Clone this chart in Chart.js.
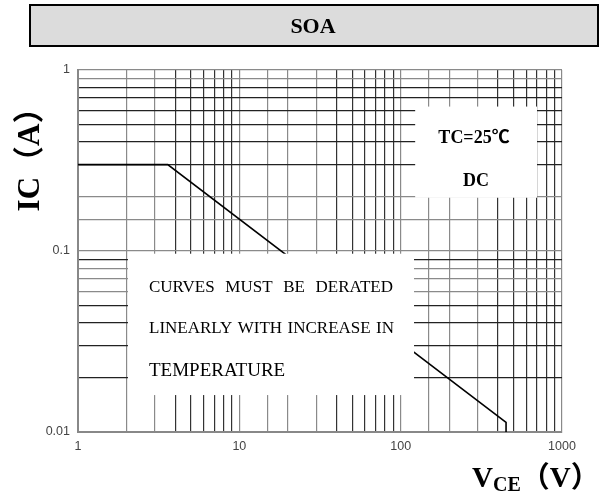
<!DOCTYPE html>
<html>
<head>
<meta charset="utf-8">
<script src="https://cdn.jsdelivr.net/npm/chart.js@4/dist/chart.umd.min.js"></script>
<style>
  html, body { margin: 0; padding: 0; background: #fff; }
  #wrap { width: 606px; height: 494px; position: relative; }
</style>
</head>
<body>
<div id="wrap"><canvas id="soaChart"></canvas></div>
<script>
// SOA curve (DC, TC=25C)
const vce = [1, 3.6, 450, 450];
const ic = [0.3, 0.3, 0.0113, 0.01];

// axis ticks
const xTickValues = [1, 10, 100, 1000];
const xTickLabels = ['1', '10', '100', '1000'];
const yTickValues = [0.01, 0.1, 1];
const yTickLabels = ['0.01', '0.1', '1'];

// grid lines drawn darker in the original
const darkH = [0.02, 0.03, 0.04, 0.05, 0.09, 0.3, 0.4, 0.5, 0.6, 0.7, 0.8];

const serif = '"Liberation Serif", "Noto Sans CJK SC", serif';

function near(a, b) { return Math.abs(Math.log10(a) - Math.log10(b)) < 1e-6; }
function labelFor(v, vals, labels) {
  for (var i = 0; i < vals.length; i++) { if (near(v, vals[i])) return labels[i]; }
  return '';
}
function mantissa(v) { return Math.round(v / Math.pow(10, Math.floor(Math.log10(v) + 1e-9))); }

// spread words evenly between x0 and x1
function justify(c, text, x0, x1, y) {
  const words = text.split(' ');
  const w = words.reduce((s, t) => s + c.measureText(t).width, 0);
  const gap = (x1 - x0 - w) / (words.length - 1);
  let x = x0;
  words.forEach(t => { c.fillText(t, x, y); x += c.measureText(t).width + gap; });
}

const decor = {
  id: 'decor',
  afterDatasetsDraw(chart) {
    const c = chart.ctx, xs = chart.scales.x, ys = chart.scales.y;
    function box(x0, x1, y0, y1) {
      const l = xs.getPixelForValue(x0), r = xs.getPixelForValue(x1);
      const t = ys.getPixelForValue(y1), b = ys.getPixelForValue(y0);
      c.fillStyle = '#fff';
      c.fillRect(l, t, r - l, b - t);
    }
    c.save();
    box(123, 700, 0.197, 0.628);
    box(2.04, 121, 0.016, 0.0966);

    c.fillStyle = '#000';
    c.textAlign = 'center';
    c.textBaseline = 'middle';
    c.font = 'bold 18px ' + serif;
    c.fillText('TC=25℃', 474, 138);
    c.fillText('DC', 476, 181);

    c.textAlign = 'left';
    c.font = '17px ' + serif;
    justify(c, 'CURVES MUST BE DERATED', 149, 393, 288);
    justify(c, 'LINEARLY WITH INCREASE IN', 149, 394, 329);
    c.font = '19px ' + serif;
    c.fillText('TEMPERATURE', 149, 371);
    c.restore();
  },
  afterDraw(chart) {
    const c = chart.ctx;
    c.save();
    // title box
    c.fillStyle = '#dcdcdc';
    c.fillRect(30, 5, 568, 41);
    c.strokeStyle = '#000';
    c.lineWidth = 2;
    c.strokeRect(30, 5, 568, 41);
    c.fillStyle = '#000';
    c.textAlign = 'center';
    c.textBaseline = 'middle';
    c.font = 'bold 22px ' + serif;
    c.fillText('SOA', 313, 27);

    // y axis title
    c.save();
    c.translate(31, 152);
    c.rotate(-Math.PI / 2);
    c.font = 'bold 31px ' + serif;
    c.fillText('IC（A）', 0, 0);
    c.restore();

    // x axis title with subscript
    c.textAlign = 'left';
    c.textBaseline = 'alphabetic';
    let x = 472;
    c.font = 'bold 29px ' + serif;
    c.fillText('V', x, 487);
    x += c.measureText('V').width;
    c.font = 'bold 20px ' + serif;
    c.fillText('CE', x, 491);
    x += c.measureText('CE').width;
    c.font = 'bold 29px ' + serif;
    c.fillText('（V）', x, 487);
    c.restore();
  }
};

new Chart(document.getElementById('soaChart'), {
  type: 'line',
  data: {
    datasets: [{
      data: vce.map((v, i) => ({ x: v, y: ic[i] })),
      borderColor: '#000',
      borderWidth: 1.6,
      pointRadius: 0,
      tension: 0,
      fill: false
    }]
  },
  options: {
    responsive: true,
    maintainAspectRatio: false,
    animation: false,
    events: [],
    layout: { padding: { left: 0, top: 70, right: 44, bottom: 0 } },
    plugins: { legend: { display: false }, tooltip: { enabled: false } },
    scales: {
      x: {
        type: 'logarithmic',
        min: 1,
        max: 1000,
        afterFit: s => { s.height = 62; },
        border: { color: '#888', width: 2 },
        grid: {
          drawTicks: false,
          lineWidth: 1.2,
          color: ctx => {
            const m = mantissa(ctx.tick.value);
            return (m >= 4 && m <= 9) ? '#333' : '#8a8a8a';
          }
        },
        ticks: {
          autoSkip: false,
          maxRotation: 0,
          padding: 7,
          color: '#444',
          font: { family: '"Liberation Sans", Arial, sans-serif', size: 12.5 },
          callback: v => labelFor(v, xTickValues, xTickLabels)
        }
      },
      y: {
        type: 'logarithmic',
        min: 0.01,
        max: 1,
        afterFit: s => { s.width = 78; },
        border: { color: '#888', width: 2 },
        grid: {
          drawTicks: false,
          lineWidth: 1.2,
          color: ctx => darkH.some(d => near(d, ctx.tick.value)) ? '#222' : '#8a8a8a'
        },
        ticks: {
          autoSkip: false,
          padding: 8,
          color: '#444',
          font: { family: '"Liberation Sans", Arial, sans-serif', size: 12.5 },
          callback: v => labelFor(v, yTickValues, yTickLabels)
        }
      }
    }
  },
  plugins: [decor]
});
</script>
</body>
</html>
